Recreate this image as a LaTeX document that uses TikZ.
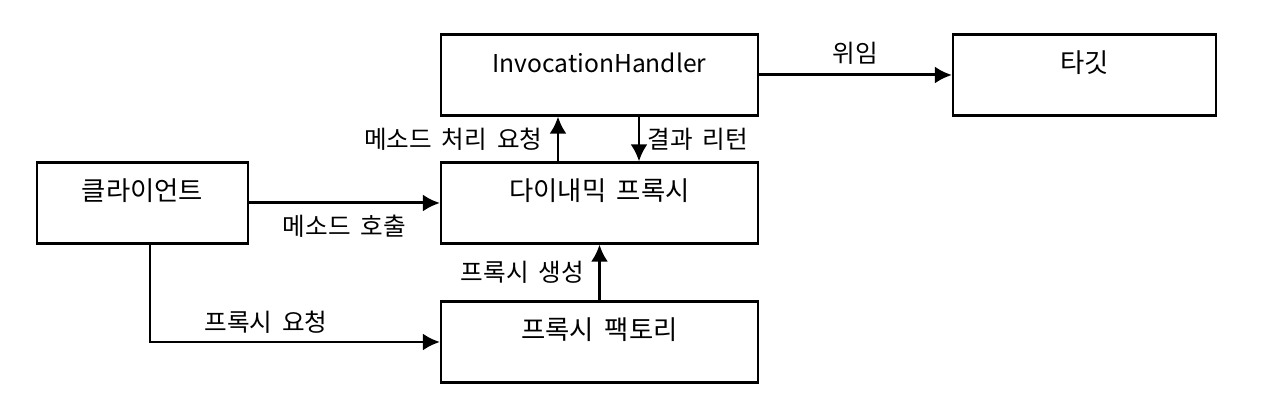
\documentclass[tikz,border=0pt]{standalone}
\usepackage{fontspec}
\setmainfont{Noto Sans CJK KR}[WordSpace=1.8]
\usepackage{tikz}
\usetikzlibrary{arrows.meta,positioning}

\begin{document}
\begin{tikzpicture}[box/.style={draw, line width=1.2pt, minimum height=1.62cm,
    text height=0.4cm, text depth=0.5cm, font=\fontsize{15}{17}\selectfont},
  arr/.style={line width=1.7pt, -{Latex[length=0.34cm,width=0.34cm]}},
  lbl/.style={font=\fontsize{14}{16}\selectfont, inner sep=2pt}]
\useasboundingbox (0,0) rectangle (25.36,8);
\node[box, minimum width=6.34cm, font=\fontsize{14}{16}\selectfont] (h) at (11.99,6.5) {InvocationHandler};
\node[box, minimum width=5.26cm] (t) at (21.69,6.5) {타깃};
\node[box, minimum width=4.22cm] (c) at (2.85,3.94) {클라이언트};
\node[box, minimum width=6.34cm] (p) at (11.99,3.94) {다이내믹 프록시};
\node[box, minimum width=6.34cm] (f) at (11.99,1.16) {프록시 팩토리};
\draw[arr] (h.east) -- node[lbl, above=3pt] {위임} (t.west);
\draw[arr] ([xshift=-0.83cm]p.north) -- node[lbl, left=6pt] {메소드 처리 요청} ([xshift=-0.83cm]h.south);
\draw[arr] ([xshift=0.79cm]h.south) -- node[lbl, right=2pt] {결과 리턴} ([xshift=0.79cm]p.north);
\draw[arr] (c.east) -- node[lbl, below=4pt] {메소드 호출} (p.west);
\draw[arr] (f.north) -- node[lbl, left=6pt] {프록시 생성} (p.south);
\draw[arr] ([xshift=0.15cm]c.south) |- node[lbl, above=2pt, pos=0.7] {프록시 요청} (f.west);
\end{tikzpicture}
\end{document}
